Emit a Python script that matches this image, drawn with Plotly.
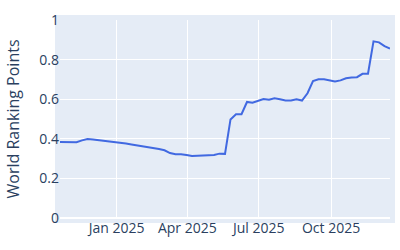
import pandas as pd
import plotly.graph_objects as go

start_date = "2024-10-21"
n_weeks = 61
dates = pd.date_range(start_date, periods=n_weeks, freq="7D")

points = [
    0.384, 0.384, 0.385, 0.383, 0.392, 0.399, 0.396, 0.393, 0.390, 0.387,
    0.383, 0.380, 0.376, 0.371, 0.367, 0.362, 0.356, 0.352, 0.348, 0.342,
    0.328, 0.322, 0.322, 0.318, 0.313, 0.314, 0.315, 0.316, 0.318, 0.325,
    0.324, 0.498, 0.524, 0.524, 0.586, 0.582, 0.590, 0.601, 0.597, 0.605,
    0.600, 0.594, 0.594, 0.600, 0.593, 0.630, 0.692, 0.701, 0.701, 0.694,
    0.690, 0.695, 0.706, 0.710, 0.711, 0.728, 0.729, 0.892, 0.887, 0.868,
    0.856,
]

y_ticks = [0, 0.2, 0.4, 0.6, 0.8, 1]
y_tick_labels = ["0", "0.2", "0.4", "0.6", "0.8", "1"]
x_tick_dates = ["2025-01-01", "2025-04-01", "2025-07-01", "2025-10-01"]
x_tick_labels = ["Jan 2025", "Apr 2025", "Jul 2025", "Oct 2025"]

BG = "#E5ECF6"
W, H = 400, 250
ml, mr, mt, mb = 60, 10, 16, 32
pw, ph = W - ml - mr, H - mt - mb
pad = 5

fig = go.Figure()
fig.add_trace(go.Scatter(
    x=dates, y=points, mode="lines",
    line=dict(color="royalblue", width=2),
    showlegend=False,
))

fig.add_shape(
    type="rect", xref="paper", yref="paper",
    x0=-pad / pw, x1=1 + pad / pw, y0=-pad / ph, y1=1 + pad / ph,
    fillcolor=BG, line=dict(width=0), layer="below",
)

fig.update_layout(
    width=W, height=H,
    margin=dict(l=ml, r=mr, t=mt, b=mb),
    paper_bgcolor="white",
    plot_bgcolor=BG,
    font=dict(family="Open Sans, Verdana, Arial, sans-serif", color="#2a3f5f", size=14),
)
fig.update_xaxes(
    range=[dates[0], dates[-1]],
    tickvals=pd.to_datetime(x_tick_dates), ticktext=x_tick_labels,
    showgrid=True, gridcolor="white", gridwidth=1,
    zeroline=False, showline=False,
    tickfont=dict(size=14),
)
fig.update_yaxes(
    range=[0, 1],
    tickvals=y_ticks, ticktext=y_tick_labels,
    showgrid=True, gridcolor="white", gridwidth=1,
    zeroline=True, zerolinecolor="white", zerolinewidth=2,
    title=dict(text="World Ranking Points", font=dict(size=16)),
    tickfont=dict(size=14),
    showline=False,
)

fig.write_html("out.html")
